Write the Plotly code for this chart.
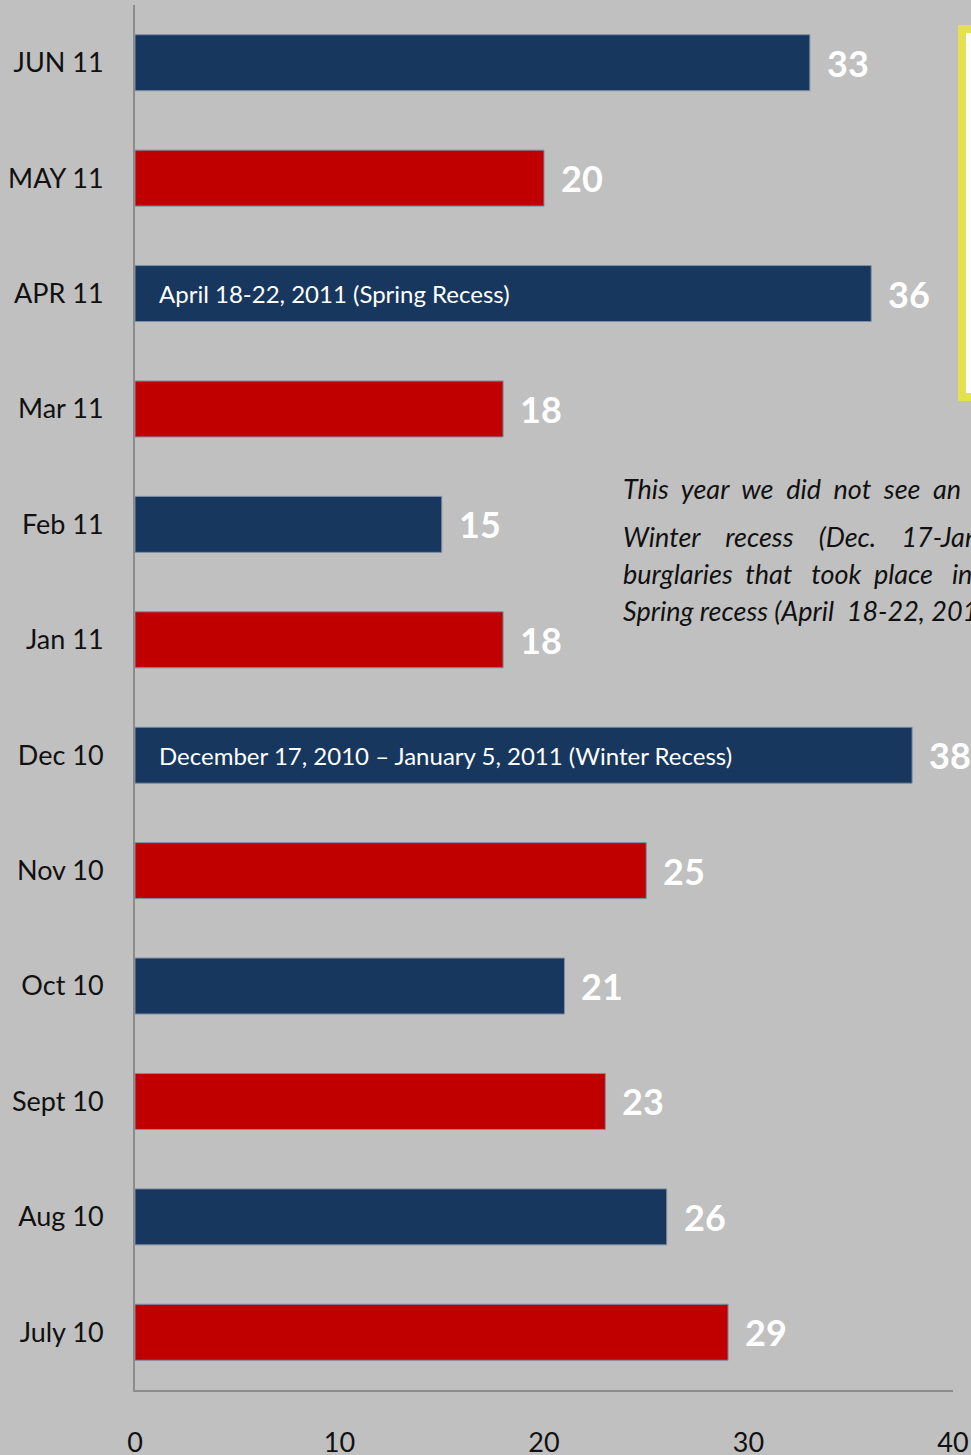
import plotly.graph_objects as go

# Data (bottom to top)
categories = ["July 10", "Aug 10", "Sept 10", "Oct 10", "Nov 10", "Dec 10",
              "Jan 11", "Feb 11", "Mar 11", "APR 11", "MAY 11", "JUN 11"]
values = [29, 26, 23, 21, 25, 38, 18, 15, 18, 36, 20, 33]
bar_colors = ["#c00000", "#17375e", "#c00000", "#17375e", "#c00000", "#17375e",
              "#c00000", "#17375e", "#c00000", "#17375e", "#c00000", "#17375e"]
x_ticks = [0, 10, 20, 30, 40]

recess_labels = {
    "APR 11": "April 18-22, 2011 (Spring Recess)",
    "Dec 10": "December 17, 2010 \u2013 January 5, 2011 (Winter Recess)",
}

note_lines = [
    "This  year  we  did  not  see  an  increase  in  burglaries",
    "Winter    recess    (Dec.    17-Jan. 5, 2011)   as   compared",
    "burglaries  that   took  place   in   December   2010,   or",
    "Spring recess (April  18-22, 2011).",
]

BG = "#c0c0c0"
FONT = "Lato"

fig = go.Figure()
fig.add_trace(go.Bar(
    x=values, y=categories, orientation="h",
    marker=dict(color=bar_colors, line=dict(width=1, color="#7d8ea5")),
    hoverinfo="skip",
))

annotations = []
for cat, val in zip(categories, values):
    annotations.append(dict(
        x=val, y=cat, xref="x", yref="y", text=str(val), showarrow=False,
        xanchor="left", yanchor="middle", xshift=15,
        font=dict(family=FONT, size=36, color="white", weight="bold"),
    ))
for cat, txt in recess_labels.items():
    annotations.append(dict(
        x=0, y=cat, xref="x", yref="y", text=txt, showarrow=False,
        xanchor="left", yanchor="middle", xshift=22,
        font=dict(family=FONT, size=24, color="white"),
    ))

note_y = [489, 536, 574, 610]
for line, ypx in zip(note_lines, note_y):
    annotations.append(dict(
        x=(621 - 135) / 818, y=(1390 - ypx) / 1385, xref="paper", yref="paper",
        text="<i>" + line + "</i>", showarrow=False,
        xanchor="left", yanchor="middle",
        font=dict(family=FONT, size=27, color="#111111"),
    ))

fig.update_layout(
    width=971, height=1455,
    margin=dict(l=135, r=18, t=5, b=65),
    paper_bgcolor=BG, plot_bgcolor=BG,
    showlegend=False,
    bargap=0.515,
    annotations=annotations,
    shapes=[dict(
        type="rect", xref="paper", yref="paper",
        x0=(962 - 135) / 818, x1=1.2,
        y0=(1390 - 397) / 1385, y1=(1390 - 29) / 1385,
        fillcolor="white", line=dict(color="#e4e050", width=8),
        layer="above",
    )],
    xaxis=dict(
        range=[0, 40], tickvals=x_ticks, showgrid=False, zeroline=False,
        showline=True, linecolor="#8c8c8c", linewidth=2,
        ticks="outside", ticklen=28, tickcolor="rgba(0,0,0,0)",
        tickfont=dict(family=FONT, size=27, color="#111111"),
        fixedrange=True, automargin=False,
    ),
    yaxis=dict(
        categoryorder="array", categoryarray=categories,
        showgrid=False, zeroline=False,
        showline=True, linecolor="#8c8c8c", linewidth=2,
        ticks="outside", ticklen=24, tickcolor="rgba(0,0,0,0)",
        tickfont=dict(family=FONT, size=27, color="#111111"),
        fixedrange=True, automargin=False,
    ),
)

fig.write_html(
    "out.html",
    config={"displayModeBar": False},
    post_script="document.body.style.margin='0';document.body.style.background='#c0c0c0';",
)
